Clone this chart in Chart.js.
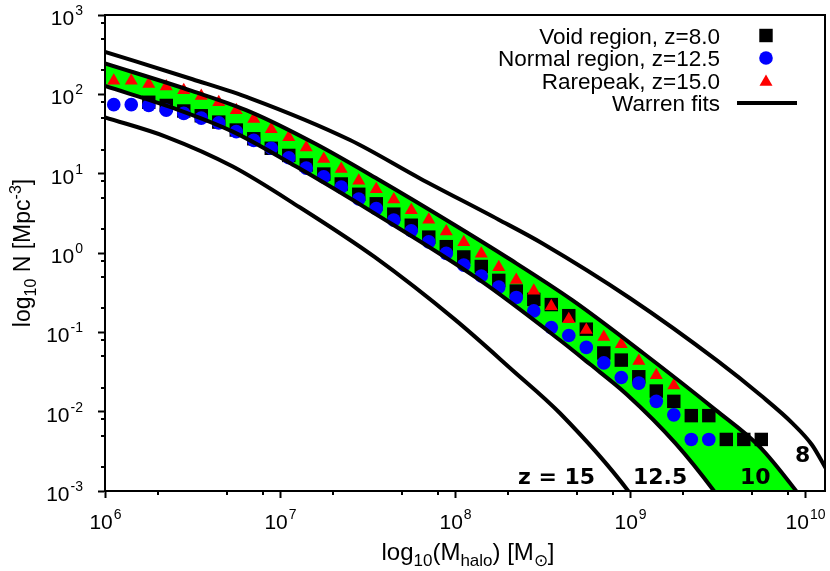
<!DOCTYPE html>
<html>
<head>
<meta charset="utf-8">
<script src="https://cdn.jsdelivr.net/npm/chart.js@4/dist/chart.umd.min.js"></script>
<style>
  html, body { margin: 0; padding: 0; background: #fff; }
</style>
</head>
<body>
<canvas id="grafico" width="830" height="571"></canvas>
<script>
// bin centres (log10 M) shared by the three simulated regions
var binLogM = [6.05, 6.15, 6.25, 6.35, 6.45, 6.55, 6.65, 6.75, 6.85, 6.95,
               7.05, 7.15, 7.25, 7.35, 7.45, 7.55, 7.65, 7.75, 7.85, 7.95,
               8.05, 8.15, 8.25, 8.35, 8.45, 8.55, 8.65, 8.75, 8.85, 8.95,
               9.05, 9.15, 9.25, 9.35, 9.45, 9.55, 9.65, 9.75];

// log10 N (null = no point in that bin)
var voidLogN = [null, null, 1.90, 1.86, 1.79, 1.73, 1.65, 1.55, 1.44, 1.32,
                1.23, 1.11, 0.995, 0.87, 0.74, 0.62, 0.49, 0.35, 0.20, 0.08,
                -0.05, -0.17, -0.345, -0.48, -0.585, -0.65, -0.79, -0.96, -1.26, -1.35,
                -1.56, -1.74, -1.87, -2.05, -2.05, -2.35, -2.35, -2.35];
var normalLogN = [1.87, 1.87, 1.86, 1.80, 1.76, 1.70, 1.64, 1.53, 1.42, 1.32,
                  1.20, 1.07, 0.96, 0.83, 0.68, 0.56, 0.415, 0.28, 0.14, -0.005,
                  -0.153, -0.29, -0.43, -0.56, -0.73, -0.94, -1.04, -1.19, -1.385, -1.57,
                  -1.64, -1.87, -2.04, -2.35, -2.35];
var rareLogN = [2.17, 2.17, 2.13, 2.10, 2.05, 1.98, 1.90, 1.80, 1.69, 1.56,
                1.46, 1.33, 1.185, 1.06, 0.91, 0.805, 0.675, 0.54, 0.42, 0.27,
                0.135, -0.01, -0.18, -0.34, -0.475, -0.67, -0.835, -0.97, -1.06, -1.15,
                -1.36, -1.54, -1.67];

// Warren fits, sampled along each curve (log10 M, log10 N)
var fitZ8LogM  = [6.0, 6.5, 6.83, 7.4, 7.8, 8.25, 8.5, 9.0, 9.5, 9.75, 9.93, 10.04, 10.12];
var fitZ8LogN  = [2.535, 2.19, 1.95, 1.424, 0.94, 0.42, 0.12, -0.57, -1.36, -1.80, -2.15, -2.42, -2.72];
var fitZ10LogM = [6.0, 6.5, 6.83, 7.2, 7.567, 8.0, 8.3, 8.67, 9.08, 9.49, 9.74, 9.96, 10.05];
var fitZ10LogN = [2.39, 2.04, 1.78, 1.38, 0.92, 0.35, -0.06, -0.594, -1.27, -1.98, -2.44, -3.03, -3.3];
var fitZ125LogM = [6.0, 6.4, 6.73, 7.1, 7.54, 8.14, 8.6, 8.77, 8.98, 9.26, 9.49, 9.75, 10.05];
var fitZ125LogN = [2.105, 1.82, 1.53, 1.08, 0.50, -0.34, -1.10, -1.40, -1.78, -2.40, -3.03, -3.85, -4.9];
var fitZ15LogM = [6.0, 6.35, 6.73, 7.11, 7.54, 8.0, 8.33, 8.6, 9.0, 9.2];
var fitZ15LogN = [1.71, 1.465, 1.09, 0.58, -0.05, -0.84, -1.48, -2.02, -3.03, -3.7];

var xDecades = [6, 7, 8, 9, 10];
var yDecades = [-3, -2, -1, 0, 1, 2, 3];
var minorSteps = [2, 5, 8];

var curveLabels = [
    { text: "z = 15", x: 518, y: 484 },
    { text: "12.5", x: 633, y: 484 },
    { text: "10", x: 740, y: 484 },
    { text: "8", x: 795, y: 462 }
];

function toPoints(logM, logN) {
    return logN.map(function (v, i) {
        return { x: Math.pow(10, logM[i]), y: v === null ? null : Math.pow(10, v) };
    });
}

function fitSet(label, logM, logN, fill) {
    return {
        label: label,
        data: toPoints(logM, logN),
        borderColor: "#000",
        borderWidth: 4,
        pointRadius: 0,
        cubicInterpolationMode: "monotone",
        fill: fill || false,
        backgroundColor: "#00ff00",
        order: 0
    };
}

function markerSet(label, logN, style, radius, color, order) {
    return {
        label: label,
        data: toPoints(binLogM, logN),
        showLine: false,
        pointStyle: style,
        pointRadius: radius,
        pointBackgroundColor: color,
        pointBorderWidth: 0,
        backgroundColor: color,
        order: order
    };
}

var FONT = '"Liberation Sans", Arial, sans-serif';

function drawPower(ctx, exp, x, y, align) {
    ctx.font = "21px " + FONT;
    var wb = ctx.measureText("10").width;
    ctx.font = "14px " + FONT;
    var we = ctx.measureText(String(exp)).width;
    var x0 = align === "right" ? x - wb - we : x - (wb + we) / 2;
    ctx.textAlign = "left";
    ctx.font = "21px " + FONT;
    ctx.fillText("10", x0, y);
    ctx.font = "14px " + FONT;
    ctx.fillText(String(exp), x0 + wb + 1, y - 10);
}

// draws a run of [text, kind] pieces, kind: 0 normal, 1 sub, 2 sup
function drawRich(ctx, parts, x, y, size, small) {
    var w = 0;
    parts.forEach(function (p) {
        ctx.font = (p[1] ? small : size) + "px " + FONT;
        w += ctx.measureText(p[0]).width;
    });
    var cx = x - w / 2;
    ctx.textAlign = "left";
    parts.forEach(function (p) {
        ctx.font = (p[1] ? small : size) + "px " + FONT;
        var dy = p[1] === 1 ? 6 : (p[1] === 2 ? -9 : 0);
        ctx.fillText(p[0], cx, y + dy);
        cx += ctx.measureText(p[0]).width;
    });
}

var decor = {
    id: "decor",
    afterDraw: function (chart) {
        var ctx = chart.ctx, a = chart.chartArea;
        var xs = chart.scales.x, ys = chart.scales.y;
        ctx.save();
        ctx.strokeStyle = "#000";
        ctx.fillStyle = "#000";
        ctx.lineWidth = 2;
        ctx.strokeRect(a.left, a.top, a.right - a.left, a.bottom - a.top);

        // minor ticks
        ctx.beginPath();
        xDecades.forEach(function (d) {
            minorSteps.forEach(function (m) {
                var v = m * Math.pow(10, d);
                if (v > xs.max) return;
                var px = Math.round(xs.getPixelForValue(v));
                ctx.moveTo(px, a.bottom);
                ctx.lineTo(px, a.bottom + 4);
            });
        });
        yDecades.forEach(function (d) {
            minorSteps.forEach(function (m) {
                var v = m * Math.pow(10, d);
                if (v > ys.max) return;
                var py = Math.round(ys.getPixelForValue(v));
                ctx.moveTo(a.left, py);
                ctx.lineTo(a.left - 4, py);
            });
        });
        ctx.stroke();

        // tick labels
        ctx.textBaseline = "alphabetic";
        xDecades.forEach(function (d) {
            drawPower(ctx, d, xs.getPixelForValue(Math.pow(10, d)), a.bottom + 38, "center");
        });
        yDecades.forEach(function (d) {
            drawPower(ctx, d, 82, ys.getPixelForValue(Math.pow(10, d)) + 10, "right");
        });

        // axis titles
        drawRich(ctx, [["log", 0], ["10", 1], ["(M", 0], ["halo", 1], [") [M", 0], ["\u2299", 1], ["]", 0]],
                 (a.left + a.right) / 2 + 3, 560, 24, 17);
        ctx.save();
        ctx.translate(30, (a.top + a.bottom) / 2);
        ctx.rotate(-Math.PI / 2);
        drawRich(ctx, [["log", 0], ["10", 1], [" N [Mpc", 0], ["-3", 2], ["]", 0]], 0, 0, 23, 16);
        ctx.restore();

        // curve labels
        ctx.font = "bold 22px 'DejaVu Sans', sans-serif";
        ctx.textAlign = "left";
        curveLabels.forEach(function (c) { ctx.fillText(c.text, c.x, c.y); });

        // legend
        var sets = chart.data.datasets;
        var rows = [sets[4], sets[5], sets[6], sets[0]];
        var rowY = [35.5, 58, 80.5, 103];
        ctx.font = "22.5px " + FONT;
        ctx.textAlign = "right";
        rows.forEach(function (ds, i) {
            var y = rowY[i];
            ctx.fillStyle = "#000";
            ctx.fillText(ds === sets[0] ? "Warren fits" : ds.label, 720, y + 8);
            if (ds === sets[0]) {
                ctx.lineWidth = 4;
                ctx.beginPath();
                ctx.moveTo(737, y);
                ctx.lineTo(797, y);
                ctx.stroke();
            } else {
                ctx.fillStyle = ds.pointBackgroundColor;
                Chart.helpers.drawPoint(ctx, {
                    pointStyle: ds.pointStyle, radius: ds.pointRadius, rotation: 0, borderWidth: 0
                }, 766, y + (ds.pointStyle === "triangle" ? 1.5 : 0));
            }
        });
        ctx.restore();
    }
};

var canvas = document.getElementById("grafico");
var ctx = canvas.getContext("2d");

var majorTicks = function (decades) {
    return function (scale) {
        scale.ticks = decades.map(function (d) { return { value: Math.pow(10, d) }; });
    };
};

var axisGrid = { display: true, drawOnChartArea: false, drawTicks: true, tickLength: 7, tickWidth: 2, tickColor: "#000" };

var myChart = new Chart(ctx, {
    type: "line",
    data: {
        datasets: [
            fitSet("Warren fit z=8", fitZ8LogM, fitZ8LogN),
            fitSet("Warren fit z=10", fitZ10LogM, fitZ10LogN, "+1"),
            fitSet("Warren fit z=12.5", fitZ125LogM, fitZ125LogN),
            fitSet("Warren fit z=15", fitZ15LogM, fitZ15LogN),
            markerSet("Void region, z=8.0", voidLogN, "rect", 9.5, "#000000", 3),
            markerSet("Normal region, z=12.5", normalLogN, "circle", 6.8, "#0000ff", 2),
            markerSet("Rarepeak, z=15.0", rareLogN, "triangle", 7.5, "#ff0000", 1)
        ]
    },
    options: {
        responsive: false,
        devicePixelRatio: 1,
        animation: false,
        events: [],
        layout: { autoPadding: false, padding: { top: 15, right: 5, left: 0, bottom: 0 } },
        plugins: {
            legend: { display: false },
            tooltip: { enabled: false },
            filler: { drawTime: "beforeDatasetsDraw" }
        },
        scales: {
            x: {
                type: "logarithmic",
                min: 1e6,
                max: 1.3e10,
                afterBuildTicks: majorTicks(xDecades),
                afterFit: function (scale) { scale.height = 80; },
                ticks: { display: false },
                grid: axisGrid,
                border: { display: true, color: "#000", width: 2 }
            },
            y: {
                type: "logarithmic",
                min: 1e-3,
                max: 1e3,
                afterBuildTicks: majorTicks(yDecades),
                afterFit: function (scale) { scale.width = 105; },
                ticks: { display: false },
                grid: axisGrid,
                border: { display: true, color: "#000", width: 2 }
            }
        }
    },
    plugins: [decor]
});
</script>
</body>
</html>
